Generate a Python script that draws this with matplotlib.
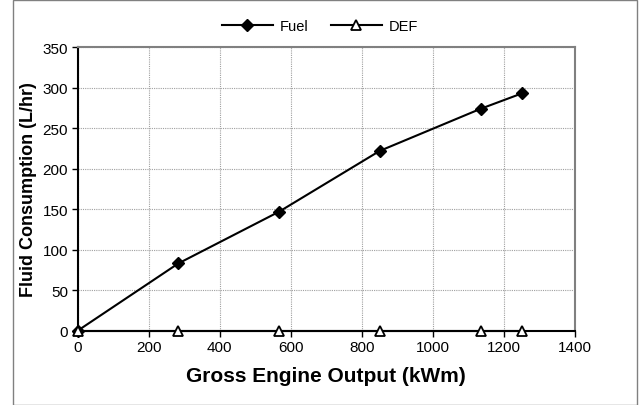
import matplotlib.pyplot as plt
from matplotlib.patches import Rectangle

plt.rcParams["font.family"] = ["Liberation Sans", "DejaVu Sans"]

# values
output_kwm = [0, 283, 567, 850, 1134, 1250]
fuel = [0, 83, 147, 222, 274, 293]
def_fluid = [0, 0, 0, 0, 0, 0]

fig = plt.figure(figsize=(6.39, 4.06), dpi=100)

# outer chart border (Excel style)
fig.patches.append(Rectangle((13 / 639, 0.0), 624 / 639, 405 / 406,
                             transform=fig.transFigure, fill=False,
                             edgecolor="#808080", linewidth=1.0))

ax = fig.add_axes([77.7 / 639, 74.3 / 406, 497.3 / 639, 283.4 / 406])

ax.plot(output_kwm, fuel, color="black", lw=1.5, marker="D", ms=6,
        mfc="black", mec="black", label="Fuel", clip_on=False, zorder=3)
ax.plot(output_kwm, def_fluid, color="black", lw=1.5, marker="^", ms=7,
        mfc="white", mec="black", mew=1.3, label="DEF", clip_on=False, zorder=4)

ax.set_xlim(0, 1400)
ax.set_ylim(0, 350)
ax.set_xticks(range(0, 1401, 200))
ax.set_yticks(range(0, 351, 50))
ax.grid(True, color="#a0a0a0", linestyle=(0, (1, 1)), linewidth=0.8)
ax.set_axisbelow(True)

for side in ("left", "bottom"):
    ax.spines[side].set_color("black")
    ax.spines[side].set_linewidth(1.5)
for side in ("top", "right"):
    ax.spines[side].set_color("#808080")
    ax.spines[side].set_linewidth(1.5)

ax.tick_params(direction="out", length=4, width=1, labelsize=11, pad=3)

ax.set_xlabel("Gross Engine Output (kWm)", fontsize=15, fontweight="bold",
              labelpad=8)
ax.set_ylabel("Fluid Consumption (L/hr)", fontsize=13, fontweight="bold")
ax.yaxis.set_label_coords(-0.082, 0.5)

fig.legend(loc="center", bbox_to_anchor=(320 / 639, 1 - 27 / 406), ncol=2,
           frameon=False, fontsize=10.5, handlelength=3.5, columnspacing=1.5,
           handletextpad=0.5)

fig.savefig("out.png", dpi=100)
